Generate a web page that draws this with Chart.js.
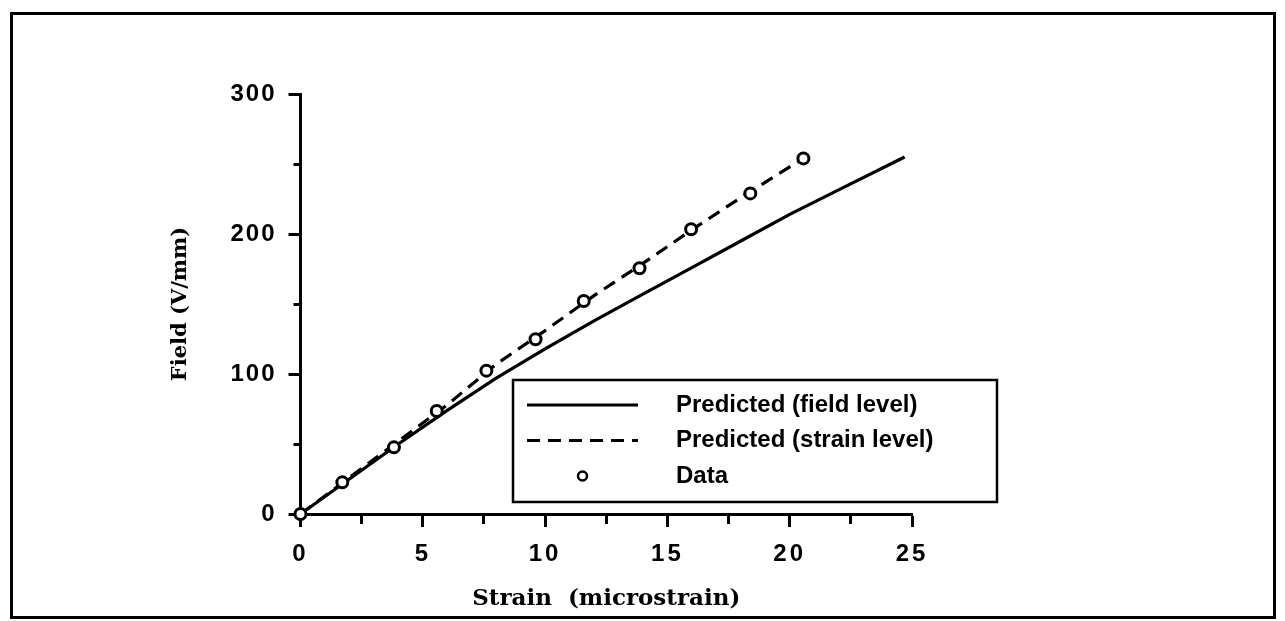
<!DOCTYPE html>
<html>
<head>
<meta charset="utf-8">
<script src="https://cdn.jsdelivr.net/npm/chart.js@4.4.1/dist/chart.umd.min.js"></script>
<style>
  html, body { margin: 0; padding: 0; background: #fff; }
  #wrap { width: 1285px; height: 621px; position: relative; }
</style>
</head>
<body>
<div id="wrap"><canvas id="chart" width="1285" height="621"></canvas></div>
<script>
// Measured points: strain (microstrain) vs applied field (V/mm)
const dataStrain = [0, 1.71, 3.82, 5.57, 7.60, 9.61, 11.58, 13.86, 15.97, 18.39, 20.56];
const dataField  = [0, 22.6, 47.6, 73.6, 102.4, 124.8, 152.1, 175.5, 203.4, 229.0, 254.0];

// Model prediction, field-level parameters
const fieldLevelStrain = [0, 2, 4, 6, 8, 10, 12, 14, 16, 18, 20, 22, 24.7];
const fieldLevelField  = [0, 25, 50, 74, 97, 118, 138, 157, 176, 195, 214, 231.5, 255];

// Model prediction, strain-level parameters
const strainLevelStrain = [0, 2, 4, 6, 8, 10, 12, 14, 16, 18, 20, 20.6];
const strainLevelField  = [0, 26, 52, 78, 107, 131, 156, 179, 203, 226, 248, 254];

// Labelled tick values
const xTickLabels = [0, 5, 10, 15, 20, 25];
const yTickLabels = [0, 100, 200, 300];

const seriesLabels = ['Predicted (field level)', 'Predicted (strain level)', 'Data'];

const toPoints = (xs, ys) => xs.map((x, i) => ({ x: x, y: ys[i] }));

Chart.defaults.font.family = "'Liberation Sans', Arial, sans-serif";
Chart.defaults.color = '#000';

// Linear axis whose tick labels are drawn with extra letter spacing
const labelSpacing = { x: '3px', y: '2px' };
class SpacedLinearScale extends Chart.LinearScale {
  drawLabels(chartArea) {
    const ctx = this.ctx;
    ctx.save();
    ctx.letterSpacing = labelSpacing[this.id] || '0px';
    super.drawLabels(chartArea);
    ctx.restore();
  }
}
SpacedLinearScale.id = 'spacedLinear';
SpacedLinearScale.defaults = Chart.LinearScale.defaults;
Chart.register(SpacedLinearScale);

// Outer frame around the whole figure
const framePlugin = {
  id: 'frame',
  beforeDraw(chart) {
    const ctx = chart.ctx;
    ctx.save();
    ctx.fillStyle = '#fff';
    ctx.fillRect(0, 0, chart.width, chart.height);
    ctx.strokeStyle = '#000';
    ctx.lineWidth = 3;
    ctx.strokeRect(11.5, 13.5, 1263, 604);
    ctx.restore();
  }
};

// Boxed legend placed inside the plot area
const boxedLegend = {
  id: 'boxedLegend',
  afterDatasetsDraw(chart, args, opts) {
    const ctx = chart.ctx;
    const x0 = opts.left, y0 = opts.top, w = opts.width, h = opts.height;
    ctx.save();
    ctx.fillStyle = '#fff';
    ctx.fillRect(x0, y0, w, h);
    ctx.strokeStyle = '#000';
    ctx.lineWidth = 2.5;
    ctx.setLineDash([]);
    ctx.strokeRect(x0, y0, w, h);
    chart.data.datasets.forEach((ds, i) => {
      const cy = y0 + opts.firstRow + i * opts.rowGap;
      ctx.save();
      if (ds.showLine) {
        ctx.strokeStyle = ds.borderColor;
        ctx.lineWidth = ds.borderWidth;
        ctx.setLineDash(ds.borderDash || []);
        ctx.beginPath();
        ctx.moveTo(x0 + opts.sampleStart, cy);
        ctx.lineTo(x0 + opts.sampleEnd, cy);
        ctx.stroke();
      } else {
        ctx.fillStyle = ds.pointBackgroundColor;
        ctx.strokeStyle = ds.pointBorderColor;
        ctx.lineWidth = 2.5;
        ctx.beginPath();
        ctx.arc(x0 + (opts.sampleStart + opts.sampleEnd) / 2, cy, 4.5, 0, Math.PI * 2);
        ctx.fill();
        ctx.stroke();
      }
      ctx.restore();
      ctx.fillStyle = '#000';
      ctx.font = opts.font;
      ctx.textBaseline = 'middle';
      ctx.textAlign = 'left';
      ctx.fillText(ds.label, x0 + opts.textStart, cy);
    });
    ctx.restore();
  }
};

const majorMinor = (labelled, minorDash) => (ctx) =>
  labelled.includes(ctx.tick.value) ? [] : minorDash;

new Chart(document.getElementById('chart'), {
  type: 'scatter',
  data: {
    datasets: [
      {
        label: seriesLabels[0],
        data: toPoints(fieldLevelStrain, fieldLevelField),
        showLine: true,
        borderColor: '#000',
        borderWidth: 3.2,
        pointRadius: 0,
        tension: 0,
        order: 2
      },
      {
        label: seriesLabels[1],
        data: toPoints(strainLevelStrain, strainLevelField),
        showLine: true,
        borderColor: '#000',
        borderWidth: 3.2,
        borderDash: [13, 8],
        pointRadius: 0,
        tension: 0,
        order: 1
      },
      {
        label: seriesLabels[2],
        data: toPoints(dataStrain, dataField),
        showLine: false,
        pointRadius: 5.5,
        pointBorderWidth: 3,
        pointBackgroundColor: '#fff',
        pointBorderColor: '#000',
        clip: false,
        order: 0
      }
    ]
  },
  options: {
    responsive: false,
    devicePixelRatio: 1,
    animation: false,
    layout: { padding: { left: 168, right: 373, top: 94, bottom: 8 } },
    plugins: {
      legend: { display: false },
      tooltip: { enabled: false },
      boxedLegend: {
        left: 513, top: 380, width: 484, height: 122,
        firstRow: 25, rowGap: 35.5,
        sampleStart: 14, sampleEnd: 125, textStart: 163,
        font: "bold 24px 'Liberation Sans', Arial, sans-serif"
      }
    },
    scales: {
      x: {
        type: 'spacedLinear',
        min: 0, max: 25,
        afterFit(scale) { scale.height = 99; },
        ticks: {
          stepSize: 2.5,
          padding: 13,
          font: { size: 24, weight: 'bold' },
          color: '#000',
          maxRotation: 0,
          autoSkip: false,
          callback: (v) => xTickLabels.includes(v) ? String(v) : ''
        },
        grid: {
          drawOnChartArea: false,
          drawTicks: true,
          tickLength: 13,
          tickWidth: 3,
          tickColor: '#000',
          tickBorderDash: majorMinor(xTickLabels, [8, 100])
        },
        border: { display: true, color: '#000', width: 3 },
        title: {
          display: true,
          text: 'Strain  (microstrain)',
          font: { family: "'DejaVu Serif', serif", size: 23, weight: 'bold' },
          color: '#000',
          padding: { top: 0, bottom: 0 }
        }
      },
      y: {
        type: 'spacedLinear',
        min: 0, max: 300,
        afterFit(scale) { scale.width = 132.5; },
        ticks: {
          stepSize: 50,
          padding: 12,
          font: { size: 24, weight: 'bold' },
          color: '#000',
          autoSkip: false,
          callback: (v) => yTickLabels.includes(v) ? String(v) : ''
        },
        grid: {
          drawOnChartArea: false,
          drawTicks: true,
          tickLength: 12,
          tickWidth: 3,
          tickColor: '#000',
          tickBorderDash: majorMinor(yTickLabels, [0, 5, 100, 0])
        },
        border: { display: true, color: '#000', width: 3 },
        title: {
          display: true,
          text: 'Field (V/mm)',
          font: { family: "'DejaVu Serif', serif", size: 21, weight: 'bold' },
          color: '#000',
          padding: { top: 0, bottom: 0 }
        }
      }
    }
  },
  plugins: [framePlugin, boxedLegend]
});
</script>
</body>
</html>
